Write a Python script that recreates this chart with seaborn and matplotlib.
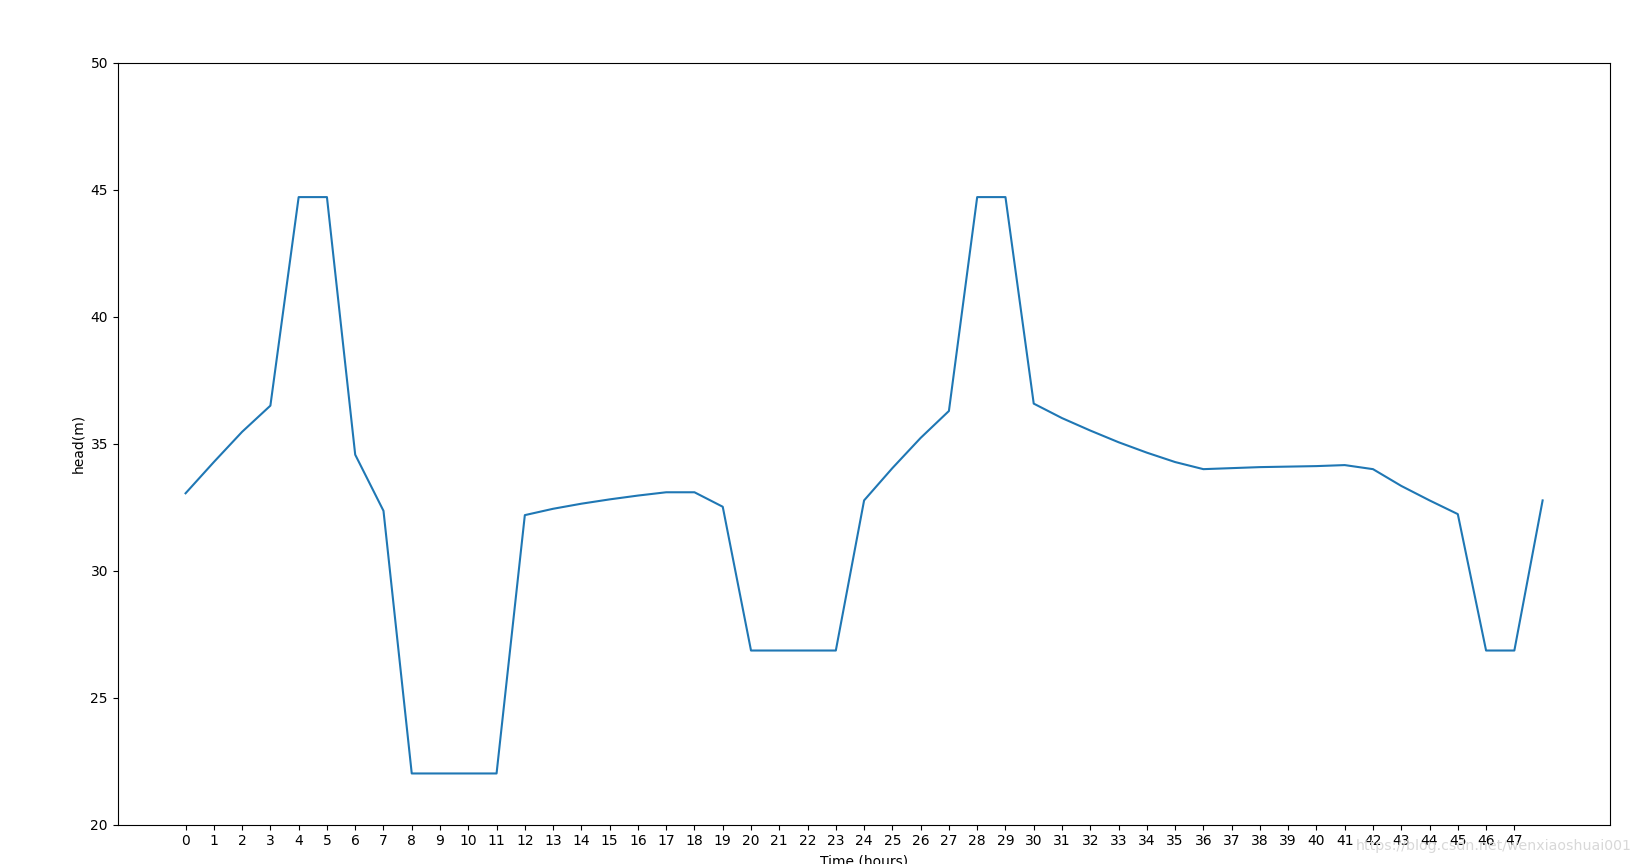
import matplotlib
matplotlib.use("Agg")
import matplotlib.pyplot as plt
import seaborn as sns
import pandas as pd

hours = list(range(49))
head = [33.05, 34.28, 35.47, 36.5, 44.71, 44.71, 34.57, 32.36, 22.02, 22.02,
        22.02, 22.02, 32.19, 32.44, 32.64, 32.81, 32.96, 33.09, 33.09, 32.52,
        26.86, 26.86, 26.86, 26.86, 32.77, 34.04, 35.23, 36.29, 44.71, 44.71,
        36.58, 36.01, 35.52, 35.06, 34.65, 34.28, 34.0, 34.04, 34.08, 34.1,
        34.12, 34.16, 34.0, 33.34, 32.77, 32.23, 26.86, 26.86, 32.77]
tick_labels = list(range(48))

df = pd.DataFrame({"hour": hours, "head": head})

fig = plt.figure(figsize=(16.35, 8.64), dpi=100)
ax = fig.add_axes([0.072, 0.0454, 0.913, 0.882])
sns.lineplot(data=df, x="hour", y="head", ax=ax, color="#1f77b4", linewidth=1.5)
ax.set_xticks(tick_labels)
ax.set_xticklabels([str(t) for t in tick_labels])
ax.set_ylim(20, 50)
ax.set_xlabel("Time (hours)")
ax.set_ylabel("head(m)")
fig.text(0.998, 0.021, "https://blog.csdn.net/wenxiaoshuai001", ha="right", va="center",
         color="#d8d8d8", fontsize=10.2)
fig.savefig("out.png", dpi=100)
